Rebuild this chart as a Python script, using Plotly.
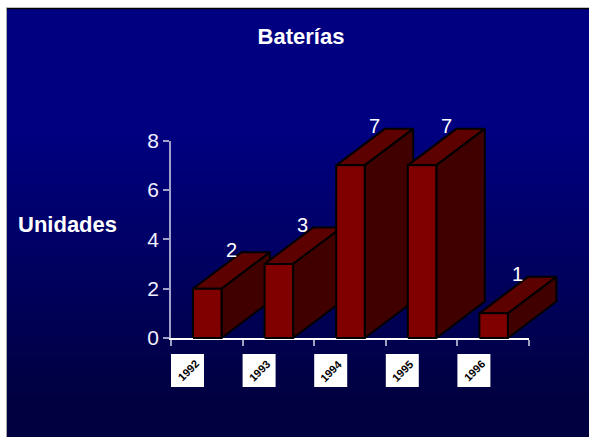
import plotly.graph_objects as go

categories = ["1992", "1993", "1994", "1995", "1996"]
values = [2, 3, 7, 7, 1]
y_ticks = [0, 2, 4, 6, 8]
title_text = "Baterías"
y_title = "Unidades"

W, H = 589, 437
X0, X1 = 171, 529          # x axis pixel span
Y0, Y8 = 338, 140.7        # y axis pixel span
PX_X = (X1 - X0) / len(categories)
PX_Y = (Y0 - Y8) / 8
GAP = 22 / PX_X
BAR_W = 28.5 / PX_X
DX = 48.5 / PX_X
DY = 36.5 / PX_Y
FRONT, TOP, SIDE = "#800000", "#5c0000", "#400000"

fig = go.Figure()

# keeps the visible axes alive
fig.add_trace(go.Scatter(x=[None], y=[None], xaxis="x", yaxis="y", showlegend=False,
                         hoverinfo="skip"))


def face(xs, ys, color):
    fig.add_trace(go.Scatter(
        x=xs, y=ys, xaxis="x2", yaxis="y2", mode="lines", fill="toself", fillcolor=color,
        line=dict(color="#000000", width=2),
        showlegend=False, hoverinfo="skip"))


for i, v in enumerate(values):
    l = i + GAP
    r = l + BAR_W
    face([l, r, r + DX, l + DX, l], [v, v, v + DY, v + DY, v], TOP)
    face([r, r + DX, r + DX, r, r], [0, DY, v + DY, v, 0], SIDE)
    face([l, r, r, l, l], [0, 0, v, v, 0], FRONT)

# Background gradient, frame
shapes = []


def blue_at(py):
    if py < 130:
        return 128
    return max(64, round(128 - (py - 130) * 64 / 270))


STEP = 3
for py in range(9, H, STEP):
    shapes.append(dict(type="rect", xref="paper", yref="paper", layer="below",
                       x0=7 / W, x1=1, y0=0, y1=1 - py / H,
                       line=dict(width=0), fillcolor=f"rgb(0,0,{blue_at(py)})"))
shapes.append(dict(type="line", xref="paper", yref="paper", layer="below",
                   x0=6 / W, x1=1, y0=1 - 8.5 / H, y1=1 - 8.5 / H,
                   line=dict(color="#000000", width=1.5)))
shapes.append(dict(type="line", xref="paper", yref="paper", layer="below",
                   x0=6.5 / W, x1=6.5 / W, y0=0, y1=1 - 8 / H,
                   line=dict(color="#a8a8a8", width=1)))

annotations = []
SQ = 33
for i, c in enumerate(categories):
    shapes.append(dict(type="rect", xref="paper", yref="paper", layer="above",
                       x0=(X0 + i * PX_X) / W, x1=(X0 + i * PX_X + SQ) / W,
                       y0=1 - 387 / H, y1=1 - 354 / H,
                       line=dict(width=0), fillcolor="#ffffff"))
    annotations.append(dict(x=(X0 + i * PX_X + SQ / 2) / W, xref="paper", y=1 - 370.5 / H,
                            yref="paper",
                            text=f"<b>{c}</b>", showarrow=False, textangle=-45,
                            font=dict(family="Liberation Sans", size=11, color="#000000"),
                            xanchor="center", yanchor="middle"))

for i, v in enumerate(values):
    annotations.append(dict(x=i + GAP + BAR_W / 2 + 24 / PX_X, xref="x2",
                            y=v + 39 / PX_Y, yref="y2", text=str(v), showarrow=False,
                            font=dict(family="Liberation Sans", size=20, color="#ffffff"),
                            xanchor="center", yanchor="middle"))

annotations.append(dict(x=67 / W, xref="paper", y=1 - 224 / H, yref="paper",
                        text=f"<b>{y_title}</b>", showarrow=False,
                        font=dict(family="Liberation Sans", size=22, color="#ffffff"),
                        xanchor="center", yanchor="middle"))

fig.update_layout(
    template="none",
    width=W, height=H, autosize=False,
    margin=dict(l=0, r=0, t=0, b=0, pad=0),
    paper_bgcolor="#ffffff", plot_bgcolor="rgba(0,0,0,0)",
    showlegend=False, shapes=shapes, annotations=annotations,
    title=dict(text=f"<b>{title_text}</b>", x=301 / W, y=1 - 36 / H,
               xanchor="center", yanchor="middle",
               font=dict(family="Liberation Sans", size=22, color="#ffffff")),
    xaxis=dict(domain=[X0 / W, X1 / W], range=[0, len(categories)], showgrid=False,
               automargin=False, zeroline=False, showline=True, linecolor="#ffffff",
               linewidth=1.5, tickmode="array",
               tickvals=list(range(len(categories) + 1)),
               ticktext=[""] * (len(categories) + 1), ticks="outside", ticklen=6,
               tickcolor="#a0a0c0", tickwidth=1.5),
    yaxis=dict(domain=[1 - Y0 / H, 1 - Y8 / H], range=[0, 8], showgrid=False,
               automargin=False, zeroline=False, showline=True, linecolor="#a0a0c8",
               linewidth=1.5, tickmode="array", tickvals=y_ticks, ticks="outside",
               ticklen=6, tickcolor="#a0a0c8", tickwidth=1.5,
               tickfont=dict(family="Liberation Sans", size=21, color="#f0f0ff")),
    # same scale as the visible axes, spanning the whole canvas so depth is not clipped
    xaxis2=dict(domain=[0, 1], anchor="y2", visible=False, automargin=False,
                range=[-X0 / PX_X, (W - X0) / PX_X]),
    yaxis2=dict(domain=[0, 1], anchor="x2", visible=False, automargin=False,
                range=[(Y0 - H) / PX_Y, Y0 / PX_Y]),
)

fig.write_html("out.html", config={"displayModeBar": False},
               post_script="document.body.style.margin='0';document.body.style.overflow='hidden';")
